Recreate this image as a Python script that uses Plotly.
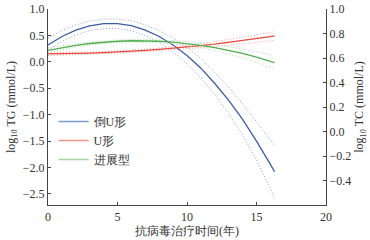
import plotly.graph_objects as go

years = [0, 1, 2, 3, 4, 5, 6, 7, 8, 9, 10, 11, 12, 13, 14, 15, 16, 16.3]

inv_u = [0.32, 0.48, 0.60, 0.68, 0.725, 0.725, 0.685, 0.60, 0.48, 0.32, 0.12, -0.12, -0.41, -0.73, -1.09, -1.50, -1.94, -2.08]
inv_u_hi = [0.45, 0.59, 0.70, 0.77, 0.81, 0.81, 0.78, 0.70, 0.59, 0.45, 0.27, 0.06, -0.20, -0.48, -0.80, -1.14, -1.50, -1.58]
inv_u_lo = [0.22, 0.39, 0.51, 0.59, 0.63, 0.63, 0.59, 0.50, 0.37, 0.19, -0.04, -0.30, -0.62, -0.98, -1.39, -1.86, -2.40, -2.58]

u_shape = [0.150, 0.152, 0.156, 0.163, 0.173, 0.184, 0.199, 0.216, 0.235, 0.256, 0.281, 0.307, 0.336, 0.368, 0.402, 0.438, 0.477, 0.49]
u_hi = [0.18, 0.177, 0.178, 0.183, 0.193, 0.204, 0.219, 0.238, 0.26, 0.286, 0.316, 0.347, 0.383, 0.423, 0.465, 0.51, 0.559, 0.575]
u_lo = [0.12, 0.127, 0.134, 0.143, 0.153, 0.164, 0.179, 0.194, 0.21, 0.226, 0.246, 0.267, 0.289, 0.313, 0.339, 0.366, 0.395, 0.405]

prog = [0.218, 0.270, 0.313, 0.347, 0.373, 0.390, 0.399, 0.399, 0.390, 0.373, 0.347, 0.313, 0.270, 0.218, 0.158, 0.089, 0.012, -0.013]
prog_hi = [0.263, 0.308, 0.345, 0.375, 0.398, 0.414, 0.423, 0.424, 0.417, 0.404, 0.384, 0.358, 0.325, 0.285, 0.24, 0.189, 0.134, 0.117]
prog_lo = [0.173, 0.232, 0.281, 0.319, 0.348, 0.366, 0.375, 0.374, 0.363, 0.342, 0.31, 0.268, 0.215, 0.151, 0.076, -0.011, -0.11, -0.143]

names = ["倒U形", "U形", "进展型"]
left_ticks = [1.0, 0.5, 0.0, -0.5, -1.0, -1.5, -2.0, -2.5]
right_ticks = [1.0, 0.8, 0.6, 0.4, 0.2, 0.0, -0.2, -0.4]
x_ticks = [0, 5, 10, 15, 20]

series = [
    (inv_u, inv_u_lo, inv_u_hi, "#3b5ca6", "#8ea3d2", "#7f9ad0"),
    (u_shape, u_lo, u_hi, "#e8463c", "#f3a39d", "#f2948c"),
    (prog, prog_lo, prog_hi, "#52ad50", "#a8d9a6", "#a3d6a0"),
]

FONT = "Times New Roman"
AX = "#444444"

fig = go.Figure()
for (mid, lo, hi, c, cl, cleg), nm in zip(series, names):
    for band in (lo, hi):
        fig.add_trace(go.Scatter(x=years, y=band, mode="lines", showlegend=False,
                                 line=dict(color=cl, width=1, dash="1px,2px"), hoverinfo="skip"))
    fig.add_trace(go.Scatter(x=years, y=mid, mode="lines", showlegend=False,
                             line=dict(color=c, width=1.3)))
for (mid, lo, hi, c, cl, cleg), nm in zip(series, names):
    fig.add_trace(go.Scatter(x=[None], y=[None], mode="lines", name=nm, yaxis="y2",
                             line=dict(color=cleg, width=1.5)))

fig.update_layout(
    width=370, height=240,
    margin=dict(l=48, r=44, t=9, b=35),
    paper_bgcolor="white", plot_bgcolor="white",
    font=dict(family=FONT, size=12, color="#333333"),
    xaxis=dict(range=[0, 20], tickvals=x_ticks, ticks="inside", ticklen=3, tickcolor=AX,
               showline=True, linecolor=AX, linewidth=1.3, showgrid=False, zeroline=False,
               automargin=False,
               title=dict(text="抗病毒治疗时间(年)", standoff=2, font=dict(size=12))),
    yaxis=dict(range=[-2.71, 1.0], tickvals=left_ticks, tickformat=".1f", ticks="inside",
               ticklen=3, tickcolor=AX, showline=True, linecolor=AX, linewidth=1.3,
               showgrid=False, zeroline=False, automargin=False,
               title=dict(text="log<sub>10</sub> TG (mmol/L)", standoff=4, font=dict(size=12))),
    yaxis2=dict(range=[-0.6, 1.0], tickvals=right_ticks, tickformat=".1f", ticks="inside",
                ticklen=3, tickcolor=AX, showline=True, linecolor=AX, linewidth=1.3,
                showgrid=False, zeroline=False, overlaying="y", side="right", anchor="x",
                automargin=False,
                title=dict(text="log<sub>10</sub> TC (mmol/L)", standoff=4, font=dict(size=12))),
    legend=dict(x=0.02, y=0.5, xanchor="left", yanchor="top", bgcolor="rgba(0,0,0,0)",
                font=dict(size=12), tracegroupgap=0),
    showlegend=True,
)

fig.write_html("out.html", config={"displayModeBar": False},
               post_script="document.body.style.margin='0';document.body.style.padding='0';")
